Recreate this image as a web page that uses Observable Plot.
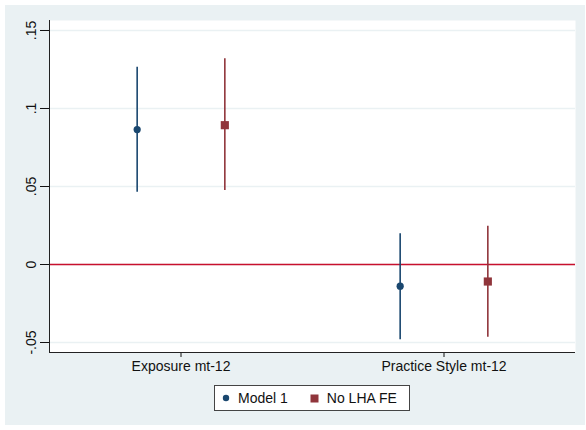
<!DOCTYPE html>
<html><head><meta charset="utf-8">
<script src="https://cdn.jsdelivr.net/npm/d3@7"></script>
<script src="https://cdn.jsdelivr.net/npm/@observablehq/plot@0.6"></script>
<style>
html,body{margin:0;padding:0;background:#fff;}
#wrap{position:absolute;left:5px;top:5px;width:580px;height:420px;background:#eaf1f3;font-family:"Liberation Sans",Arial,sans-serif;}
#legend{position:absolute;left:209px;top:380px;width:194px;height:24px;background:#fff;border:1px solid #444;display:flex;align-items:center;font-size:14px;color:#111;}
.item{display:flex;align-items:center;}
</style></head>
<body><div id="wrap"><div id="chart"></div><div id="legend"></div></div>
<script>
const categories = ["Exposure mt-12", "Practice Style mt-12"];
const seriesNames = ["Model 1", "No LHA FE"];
const seriesColors = ["#1a476f", "#90353b"];
const estModel1 = [0.0865, -0.0139];
const loModel1 = [0.0463, -0.0483];
const hiModel1 = [0.1265, 0.0197];
const estNoLHA = [0.0893, -0.0109];
const loNoLHA = [0.0474, -0.0466];
const hiNoLHA = [0.1319, 0.0246];
const yTicks = [-0.05, 0, 0.05, 0.1, 0.15];

const offsets = [-1/6, 1/6];
const rows = [];
[[estModel1, loModel1, hiModel1], [estNoLHA, loNoLHA, hiNoLHA]].forEach(([e, lo, hi], s) => {
  categories.forEach((c, i) => rows.push({series: seriesNames[s], x: i + 1 + offsets[s], est: e[i], lo: lo[i], hi: hi[i]}));
});
const fmt = d => d === 0 ? "0" : String(d).replace("0.", ".");
const color = {domain: seriesNames, range: seriesColors};

const chart = Plot.plot({
  width: 580, height: 378,
  marginLeft: 44, marginTop: 15, marginBottom: 31, marginRight: 10,
  style: {background: "transparent", fontFamily: "'Liberation Sans', Arial, sans-serif", fontSize: "14px", color: "#111"},
  x: {domain: [0.5, 2.5]},
  y: {domain: [-0.0564, 0.1564]},
  color,
  marks: [
    Plot.frame({fill: "#fff", stroke: null}),
    Plot.gridY(yTicks, {stroke: "#eaf1f3", strokeOpacity: 1, strokeWidth: 1.5}),
    Plot.ruleY([0], {stroke: "#c8102e", strokeWidth: 1.5}),
    Plot.ruleX(rows, {x: "x", y1: "lo", y2: "hi", stroke: "series", strokeWidth: 1.6}),
    Plot.dot(rows.filter(d => d.series === seriesNames[0]), {x: "x", y: "est", fill: "series", r: 3.6, symbol: "circle"}),
    Plot.dot(rows.filter(d => d.series === seriesNames[1]), {x: "x", y: "est", fill: "series", r: 4.6, symbol: "square"}),
    Plot.axisY(yTicks, {tickFormat: fmt, tickSize: 9, tickRotate: -90, tickPadding: 5, label: null, fontSize: 14}),
    Plot.axisX([1, 2], {tickFormat: d => categories[d - 1], tickSize: 5, tickPadding: 4, label: null, fontSize: 14}),
    Plot.ruleX([0.5], {stroke: "#222", strokeWidth: 1}),
    Plot.ruleY([-0.0564], {stroke: "#222", strokeWidth: 1})
  ]
});
document.getElementById("chart").appendChild(chart);

const lg = document.getElementById("legend");
const syms = ['<svg width="8" height="8"><circle cx="4" cy="4" r="3.2" fill="' + seriesColors[0] + '"/></svg>',
              '<svg width="9" height="9"><rect x="0.5" y="0.5" width="8" height="8" fill="' + seriesColors[1] + '"/></svg>'];
seriesNames.forEach((n, i) => {
  const it = document.createElement("div");
  it.className = "item";
  it.style.marginLeft = i === 0 ? "7px" : "22px";
  it.innerHTML = syms[i] + '<span style="margin-left:8px">' + n + '</span>';
  lg.appendChild(it);
});
</script></body></html>
